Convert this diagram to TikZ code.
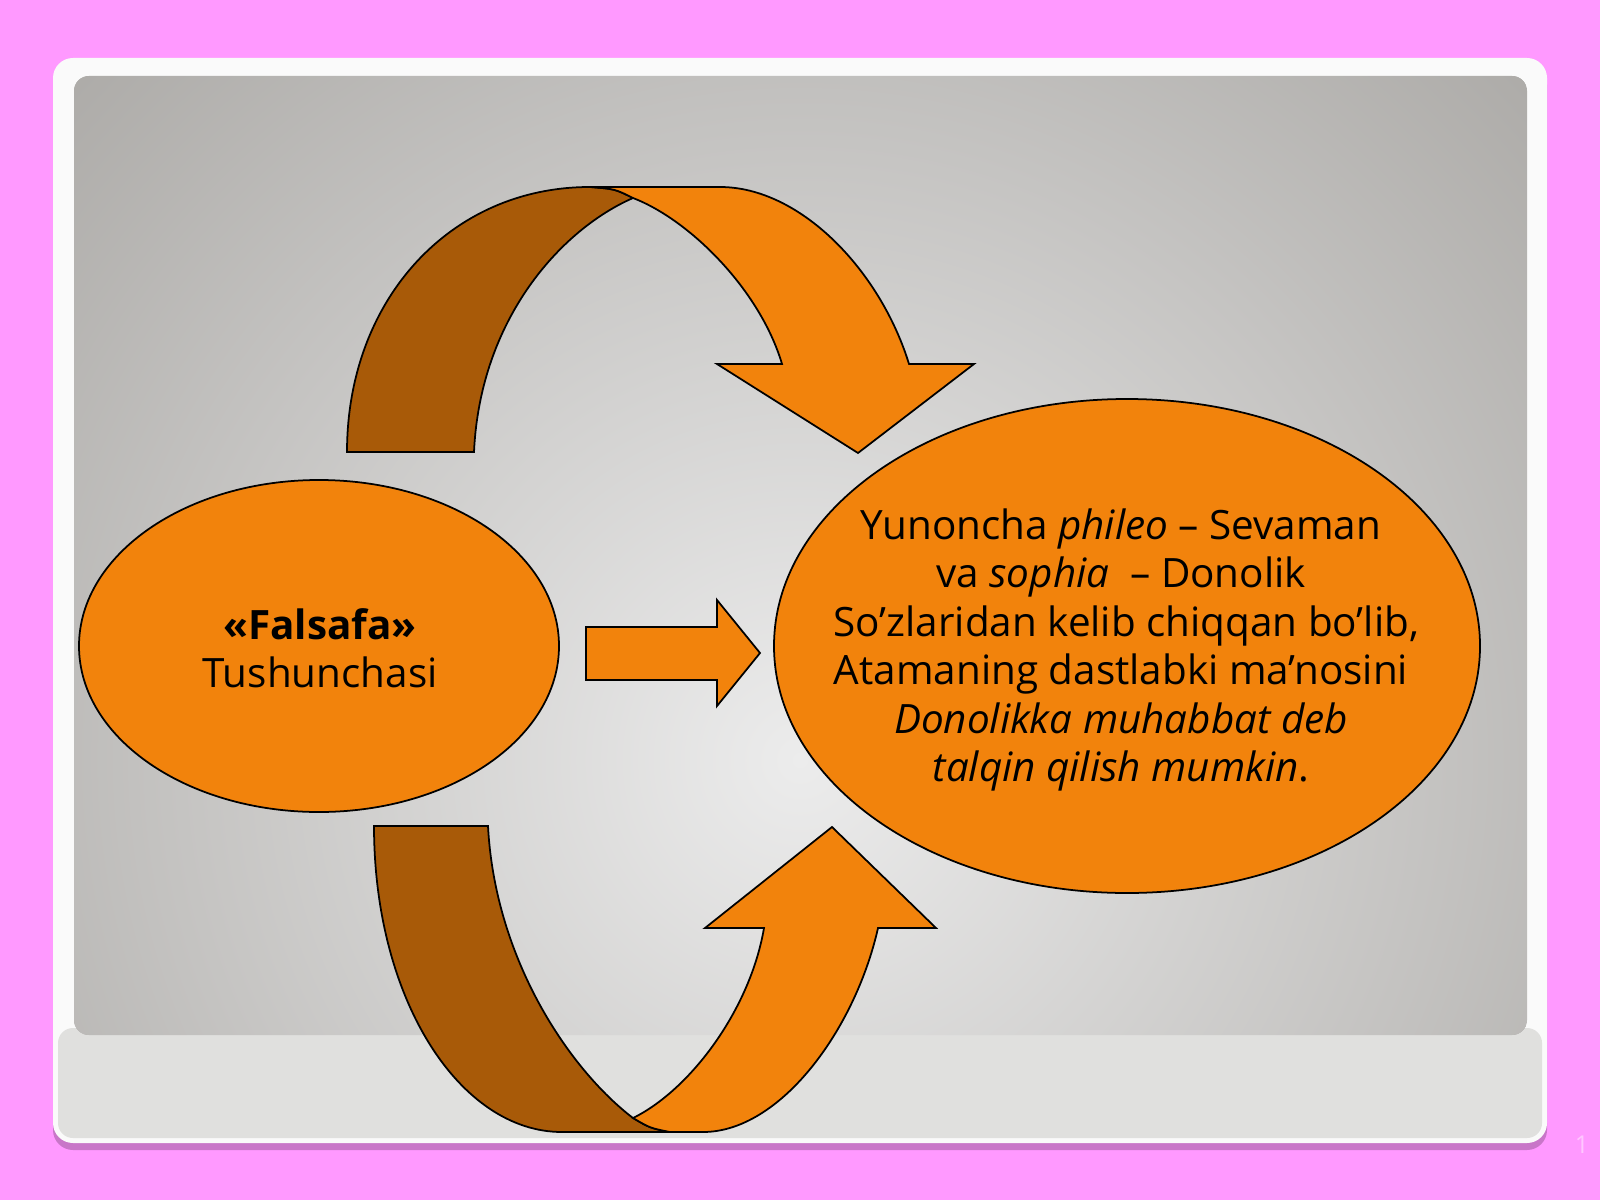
\documentclass[tikz,border=0pt]{standalone}
\usepackage{fontspec}
\setmainfont{Open Sans}
\usepackage{tikz}
\usetikzlibrary{shapes.geometric}

\definecolor{pinkbg}{RGB}{255,153,255}
\definecolor{shadowpink}{RGB}{200,118,200}
\definecolor{framewhite}{RGB}{250,250,250}
\definecolor{stripgray}{RGB}{224,224,222}
\definecolor{panelin}{RGB}{236,236,236}
\definecolor{panelout}{RGB}{172,170,167}
\definecolor{orangefill}{RGB}{242,131,12}
\definecolor{orangedark}{RGB}{168,90,8}

\begin{document}
\begin{tikzpicture}[x=1cm,y=1cm,line width=0.5pt,
                    every node/.style={font=\fontsize{11.5}{13.8}\selectfont}]
  \tikzstyle{bubble}=[ellipse,draw=black,fill=orangefill,inner sep=0pt]
  \tikzstyle{band}=[draw=black,line join=miter]
  \tikzstyle{front}=[band,fill=orangefill]
  \tikzstyle{back}=[band,fill=orangedark]

  \useasboundingbox (0,0) rectangle (16,12);
  \fill[pinkbg] (0,0) rectangle (16,12);

  % slide frame and grey panel
  \fill[shadowpink,rounded corners=0.2cm] (0.53,0.50) rectangle (15.47,11.35);
  \fill[framewhite,rounded corners=0.2cm] (0.53,0.57) rectangle (15.47,11.42);
  \fill[stripgray,rounded corners=0.15cm] (0.58,0.62) rectangle (15.42,1.72);
  \begin{scope}
    \clip[rounded corners=0.15cm] (0.74,1.65) rectangle (15.27,11.24);
    \fill[panelout] (0.74,1.65) rectangle (15.27,11.24);
    \shade[inner color=panelin,outer color=panelout] (8.0,4.4) circle (10.2);
  \end{scope}

  \node[bubble,minimum width=4.80cm,minimum height=3.32cm] (falsafa) at (3.19,5.54) {};
  \node[bubble,minimum width=7.06cm,minimum height=4.94cm] (meaning) at (11.27,5.54) {};

  \node[align=center] (falsafatext) at (3.20,5.52) {\textbf{«Falsafa»}\\Tushunchasi};
  \node[align=center] (meaningtext) at (11.21,5.50)
    {Yunoncha \textit{phileo} – Sevaman\\
     va \textit{sophia}\ \ – Donolik\\
     \ So’zlaridan kelib chiqqan bo’lib,\\
     Atamaning dastlabki ma’nosini\\
     \textit{Donolikka muhabbat deb}\\
     \textit{talqin qilish mumkin}.};

  % straight arrow
  \draw[front] (5.86,5.20) -- (7.17,5.20) -- (7.17,4.94) -- (7.60,5.47)
        -- (7.17,6.00) -- (7.17,5.73) -- (5.86,5.73) -- cycle;

  % upper curved arrow
  \draw[back] (3.47,7.48) .. controls (3.47,9.0) and (4.5,10.13) .. (5.90,10.13)
        .. controls (6.15,10.11) .. (6.33,10.02)
        .. controls (5.6,9.7) and (4.8,8.8) .. (4.74,7.48) -- cycle;
  \draw[front] (5.90,10.13) -- (7.20,10.13) .. controls (8.0,10.13) and (8.8,9.3) .. (9.09,8.36)
        -- (9.74,8.36) -- (8.58,7.47) -- (7.17,8.36) -- (7.82,8.36)
        .. controls (7.6,9.1) and (6.9,9.8) .. (6.33,10.02)
        .. controls (6.15,10.11) .. (5.90,10.13) -- cycle;

  % lower curved arrow
  \draw[back] (3.74,3.74) .. controls (3.74,2.0) and (4.6,0.68) .. (5.62,0.68) -- (6.70,0.68)
        .. controls (6.5,0.72) .. (6.33,0.82)
        .. controls (5.7,1.3) and (4.95,2.4) .. (4.88,3.74) -- cycle;
  \draw[front] (6.70,0.68) -- (7.03,0.68) .. controls (7.8,0.68) and (8.55,1.7) .. (8.78,2.72)
        -- (9.36,2.72) -- (8.32,3.73) -- (7.05,2.72) -- (7.64,2.72)
        .. controls (7.5,1.9) and (6.9,1.1) .. (6.33,0.82)
        .. controls (6.5,0.72) .. (6.70,0.68) -- cycle;

  \node[text=pinkbg!55!white,font=\fontsize{7}{8}\selectfont] (slideno) at (15.82,0.55) {1};
\end{tikzpicture}
\end{document}
